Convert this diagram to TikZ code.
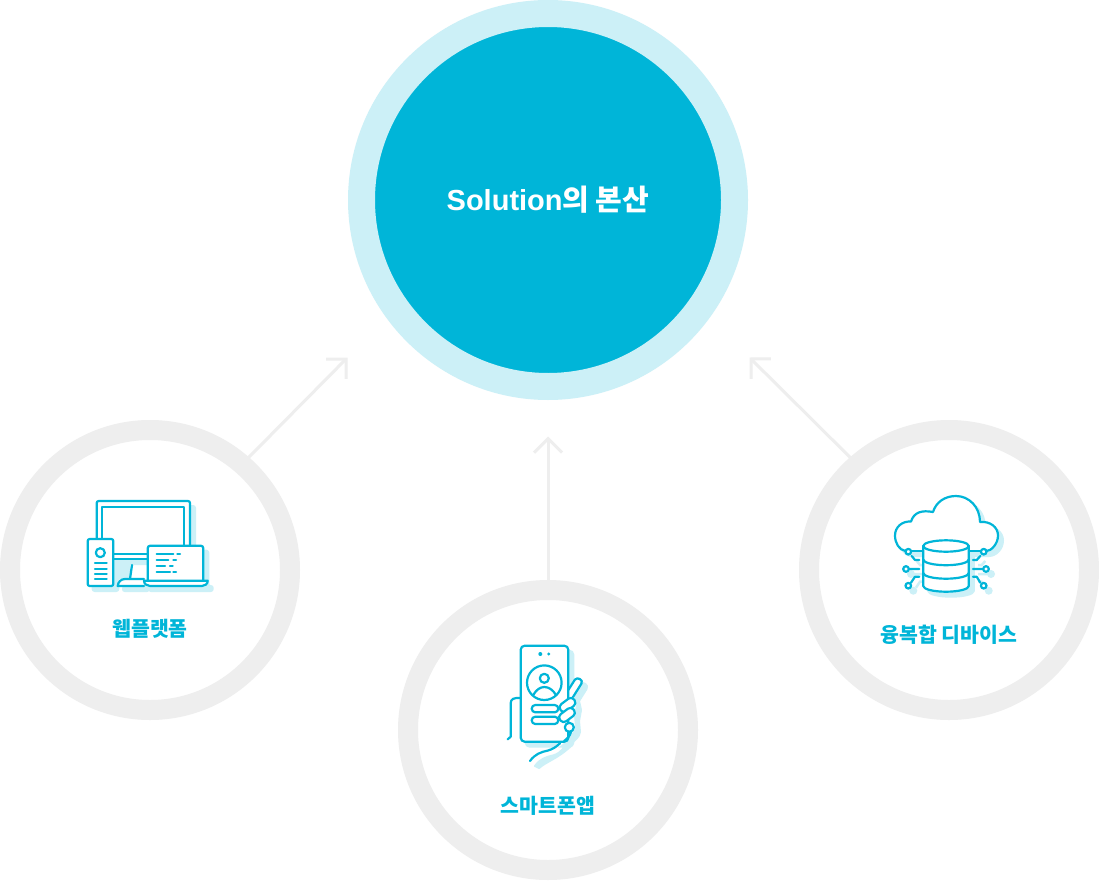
\documentclass[tikz,border=0pt]{standalone}
\usepackage{fontspec}
\setmainfont{Noto Sans CJK KR}
\newfontfamily\latinfont{Liberation Sans}
\usetikzlibrary{arrows.meta}
\definecolor{cmain}{HTML}{00B5D8}
\definecolor{clight}{HTML}{CCF0F7}
\definecolor{cgrey}{HTML}{EEEEEE}
\tikzset{
  x=1pt,y=-1pt,
  ring/.style={circle,draw=cgrey,line width=20pt,fill=white,minimum size=280pt,inner sep=0pt,outer sep=0pt},
  hub/.style={circle,draw=clight,line width=27pt,fill=cmain,minimum size=373pt,inner sep=0pt,outer sep=0pt,
    text=white,font=\fontsize{29}{32}\selectfont\bfseries},
  link/.style={draw=cgrey,line width=3pt,-{Straight Barb[length=14pt,width=28pt,line width=3pt]}},
  ink/.style={draw=cmain,line width=2.2pt,line cap=round,line join=round},
  shade/.style={fill=clight,draw=clight,line width=2pt,line join=round},
  blank/.style={fill=white,draw=none},
  lbl/.style={text=cmain,font=\fontsize{20.5}{24}\selectfont\bfseries,inner sep=0pt},
}
\newcommand{\webshapes}{
  [rounded corners=2pt] (96.7,540) -- (96.7,501) -- (190,501) -- (190,547) -- (147.7,547) -- (147.7,559) -- (113.3,559) -- (113.3,540) -- cycle
  (87.7,539) -- (113.3,539) -- (113.3,586) -- (87.7,586) -- cycle
  (147.7,581) -- (147.7,545.7) -- (203.3,545.7) -- (203.3,581) -- (207.7,581) -- (207.7,586) -- (144,586) -- (144,581) -- cycle
  (117.7,586) -- (119,579) -- (144,579) -- (144,586) -- cycle
}
\newcommand{\phoneshapes}{
  [rounded corners=4pt] (520.7,645.7) -- (568.3,645.7) -- (568.3,741.7) -- (520.7,741.7) -- cycle
  [rounded corners=0pt] (568,690) -- (575,679) .. controls (578,676) and (584,680) .. (581.5,684) -- (574,696) -- (576,705) -- (574,716) -- (575,727) .. controls (574,733) and (570,734) .. (566,739) -- (556,740) -- cycle
  (560,741) .. controls (556,747) and (553,749) .. (548,750.5) .. controls (541,752) and (535,754) .. (530,761) -- (534,763) .. controls (542,756) and (552,754) .. (566,741) -- cycle
}
\newcommand{\cloudshape}{
  (905.5,551) .. controls (899,550) and (895,543) .. (895,535.5) .. controls (895,527) and (902,521) .. (911,521.5) .. controls (914,512) and (922,510) .. (933,512) .. controls (936,502) and (945,496) .. (956,496) .. controls (969,496) and (980,507) .. (980,522) .. controls (990,521) and (998,527) .. (998,535.5) .. controls (998,544) and (991,551) .. (984,551) -- cycle
}
\newcommand{\cylshape}{
  (923.2,546) arc[x radius=22.8,y radius=5.7,start angle=180,end angle=360] -- (968.8,586) arc[x radius=22.8,y radius=5.7,start angle=0,end angle=180] -- cycle
}
\begin{document}
\begin{tikzpicture}
\useasboundingbox (0,0) rectangle (1099,880);
\fill[white] (0,0) rectangle (1099,880);
\node[hub] (hub) at (548,200) {{\latinfont Solution}의 본산};
\node[ring] (web) at (150,570) {};
\node[ring] (app) at (548,730) {};
\node[ring] (dev) at (949,570) {};
\coordinate (tipL) at (347.5,357.5);
\coordinate (tipM) at (548,436.5);
\coordinate (tipR) at (749.5,357.5);
\draw[link] (web.49.6) -- (tipL);
\draw[link] (app.90) -- (tipM);
\draw[link] (dev.131) -- (tipR);

% web platform icon
\begin{scope}[shift={(5,5)}]
  \path[shade] \webshapes;
\end{scope}
\path[blank] \webshapes;
\fill[clight] (118,562) rectangle (130,579);
\draw[ink,rounded corners=2pt] (96.7,538) -- (96.7,501) -- (190,501) -- (190,545);
\draw[ink] (102.3,538) -- (102.3,507.3) -- (184.3,507.3) -- (184.3,545);
\draw[ink] (113.3,554) -- (147.7,554) (113.3,559.3) -- (147.7,559.3);
\draw[ink,fill=white,rounded corners=2pt] (87.7,539) rectangle (113.3,586);
\draw[ink] (100.3,552.7) circle[radius=4.5];
\draw[ink] (95,563.3) -- (106.7,563.3) (95,569) -- (106.7,569) (95,574) -- (106.7,574) (95,579) -- (106.7,579);
\draw[ink,fill=white,rounded corners=2.5pt] (147.7,581) -- (147.7,545.7) -- (203.3,545.7) -- (203.3,581);
\draw[ink,fill=white] (144,580.7) -- (207.7,580.7) .. controls (207.7,584) and (205,586) .. (202,586) -- (150,586) .. controls (147,586) and (144,584) .. (144,580.7) -- cycle;
\draw[ink] (156.7,554) -- (173.3,554) (177.3,554) -- (180,554) (156.7,560) -- (168.3,560) (173.3,560) -- (176,560) (156.7,566) -- (165,566) (170,566) -- (172.7,566) (156.7,572) -- (170,572) (173.3,572) -- (176,572);
\draw[ink] (132,565) -- (130,579);
\draw[ink] (144,586) -- (117.7,586) .. controls (118,582) and (121,579) .. (125,579) -- (144,579);
\node[lbl] (webl) at (150,629) {웹플랫폼};

% phone icon
\begin{scope}[shift={(5,5)}]
  \path[shade] \phoneshapes;
\end{scope}
\path[blank] \phoneshapes;
\draw[ink] (507.7,739.3) -- (510.7,736.7) -- (510.7,703) .. controls (510.7,699) and (514,697.5) .. (520.7,698);
\draw[ink,rounded corners=4pt] (520.7,645.7) rectangle (568.3,741.7);
\fill[cmain] (540.3,654) circle[radius=2] (548.7,654) circle[radius=1.6];
\draw[ink] (544.3,682.7) circle[radius=17.3];
\draw[ink] (544.3,678.3) circle[radius=4.5];
\draw[ink] (533.3,695) .. controls (536,690) and (540,687) .. (544.3,687) .. controls (549,687) and (553,690) .. (556,695);
\draw[ink,rounded corners=3.6pt] (531.7,705) rectangle (558.3,712.3);
\draw[ink,rounded corners=3.6pt] (531.7,716.7) rectangle (558.3,724);
\draw[ink] (568.3,690) -- (575,679.5) .. controls (577.5,676.5) and (583.5,680) .. (581.5,683.5) -- (573,697);
\draw[ink,fill=white,rotate around={37:(567.5,705)},rounded corners=4pt] (559,700.5) rectangle (576,709.5);
\draw[ink,fill=white,rotate around={37:(567,715)},rounded corners=4pt] (558.5,710.5) rectangle (575.5,719.5);
\draw[ink,fill=white] (569.3,727.3) circle[radius=4.5];
\draw[ink] (571,732) .. controls (570,736) and (567,739) .. (564,741);
\draw[ink] (560,743.3) .. controls (556,747) and (553,749) .. (548,750.5) .. controls (541,752) and (535,754) .. (530,761);
\node[lbl] (appl) at (548,806) {스마트폰앱};

% device icon
\begin{scope}[shift={(5,5)}]
  \path[shade] \cloudshape;
  \path[shade] \cylshape;
  \draw[clight,line width=2.5pt] (911.7,556) -- (915,560) -- (919.3,560) (909.3,569) -- (919.3,569) (911,582.7) -- (915,576.7) -- (919.3,576.7) (980.3,556) -- (976.7,560) -- (973,560) (982.7,569) -- (973,569) (980.3,582.7) -- (976.7,576.7) -- (973,576.7);
  \fill[clight] (906,569) circle[radius=4] (908.3,585.7) circle[radius=4] (986,569) circle[radius=4] (983.7,585.7) circle[radius=4];
\end{scope}
\path[blank] \cloudshape;
\draw[ink] (905.5,551) .. controls (899,550) and (895,543) .. (895,535.5) .. controls (895,527) and (902,521) .. (911,521.5) .. controls (914,512) and (922,510) .. (933,512) .. controls (936,502) and (945,496) .. (956,496) .. controls (969,496) and (980,507) .. (980,522) .. controls (990,521) and (998,527) .. (998,535.5) .. controls (998,544) and (991,551) .. (986.5,551);
\draw[ink] (911.5,551) -- (924,551) (968,551) -- (981,551);
\draw[ink,fill=white] \cylshape;
\draw[ink] (923.2,546) arc[x radius=22.8,y radius=5.7,start angle=180,end angle=0];
\draw[ink] (923.2,559.5) arc[x radius=22.8,y radius=5.7,start angle=180,end angle=0];
\draw[ink] (923.2,573) arc[x radius=22.8,y radius=5.7,start angle=180,end angle=0];
\draw[ink] (911.7,556) -- (915,560) -- (919.3,560) (909.3,569) -- (919.3,569) (911,582.7) -- (915,576.7) -- (919.3,576.7) (980.3,556) -- (976.7,560) -- (973,560) (982.7,569) -- (973,569) (980.3,582.7) -- (976.7,576.7) -- (973,576.7);
\draw[ink,fill=white] (908.3,551.7) circle[radius=2.8] (983.7,551.7) circle[radius=2.8] (906,569) circle[radius=2.8] (986,569) circle[radius=2.8] (908.3,585.7) circle[radius=2.8] (983.7,585.7) circle[radius=2.8];
\node[lbl] (devl) at (949,635) {융복합 디바이스};
\end{tikzpicture}
\end{document}
